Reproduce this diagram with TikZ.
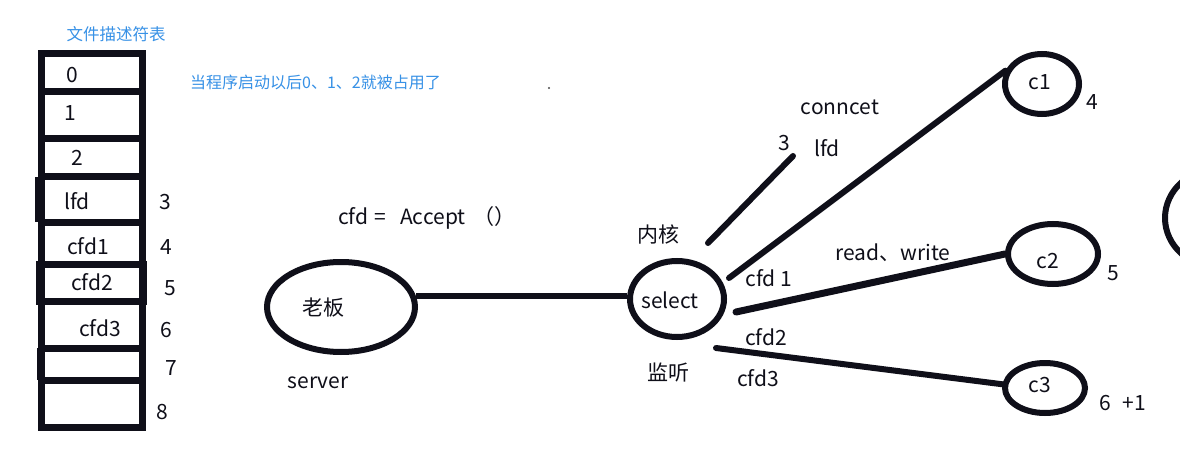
\documentclass[tikz,border=0pt]{standalone}
\usepackage{fontspec}
\setmainfont{Noto Sans CJK SC}
\usetikzlibrary{shapes.geometric}
\definecolor{ink}{RGB}{15,15,25}
\definecolor{bluet}{RGB}{55,145,230}
\begin{document}
\begin{tikzpicture}[x=1pt,y=-1pt,
  txt/.style={font=\fontsize{21}{24}\selectfont, text=ink, inner sep=0pt},
  btxt/.style={font=\fontsize{16}{19}\selectfont, text=bluet, inner sep=0pt},
  oval/.style={ellipse, draw=ink, line width=6pt, inner sep=0pt},
  wire/.style={draw=ink, line width=6pt, line cap=round},
  tbl/.style={draw=ink, line width=7pt}]
\useasboundingbox (0,0) rectangle (1180,465);
\clip (0,0) rectangle (1180,465);
\fill[white] (0,0) rectangle (1180,465);

% file descriptor table
\draw[tbl] (41,54) rectangle (142,427);
\foreach \yy in {92,139,177,222,264,301,348,380} \draw[tbl] (41,\yy) -- (142,\yy);
\draw[tbl] (38,177) -- (38,222);
\draw[tbl] (39,264) rectangle (143,301);
\draw[tbl] (40,348) -- (40,380);

\node[btxt, font=\fontsize{16.5}{19}\selectfont] (title) at (116,34) {文件描述符表};
\node[btxt, anchor=west] (desc) at (190,82) {当程序启动以后0、1、2就被占用了};
\fill[gray!60!black] (549,88) circle (1.1);

\node[txt] (r0) at (72,75) {0};
\node[txt] (r1) at (70,113) {1};
\node[txt] (r2) at (77,158) {2};
\node[txt] (r3) at (77,201) {lfd};
\node[txt] (r4) at (88,246) {cfd1};
\node[txt] (r5) at (92,282) {cfd2};
\node[txt] (r6) at (100,328) {cfd3};
\node[txt] (i3) at (165,202) {3};
\node[txt] (i4) at (166,247) {4};
\node[txt] (i5) at (170,288) {5};
\node[txt] (i6) at (166,330) {6};
\node[txt] (i7) at (171,368) {7};
\node[txt] (i8) at (162,412) {8};

% ovals
\node[oval, minimum width=148pt, minimum height=90pt] (boss) at (341,307) {};
\node[oval, minimum width=94pt, minimum height=76pt] (sel) at (677,299) {};
\node[oval, minimum width=74pt, minimum height=60pt] (c1) at (1042,84) {};
\node[oval, minimum width=90pt, minimum height=60pt] (c2) at (1053,254) {};
\node[oval, minimum width=80pt, minimum height=50pt] (c3) at (1045,388) {};
\node[oval, minimum width=110pt, minimum height=100pt] (cx) at (1220,218) {};

\node[txt] (bossT) at (323,308) {老板};
\node[txt] (selT) at (670,300) {select};
\node[txt] (c1T) at (1040,82) {c1};
\node[txt] (c2T) at (1048,261) {c2};
\node[txt] (c3T) at (1040,385) {c3};
\node[txt] (n4) at (1092,102) {4};
\node[txt] (n5) at (1113,273) {5};
\node[txt, anchor=west] (n6) at (1099,403) {6\hspace{12pt}+1};

\node[txt, anchor=west] (accept) at (338,218) {cfd\hspace{6pt}=\hspace{14pt}Accept\hspace{8pt}（）};
\node[txt] (server) at (318,383) {server};
\node[txt] (kernel) at (658,234) {内核};
\node[txt] (listen) at (668,373) {监听};
\node[txt] (conn) at (840,107) {conncet};
\node[txt] (three) at (784,143) {3};
\node[txt] (lfd) at (827,148) {lfd};
\node[txt] (cfd1) at (769,278) {cfd 1};
\node[txt] (rw) at (893,253) {read、write};
\node[txt] (cfd2) at (766,337) {cfd2};
\node[txt] (cfd3) at (758,378) {cfd3};

% connectors
\draw[wire, line cap=butt] (boss.8) -- (boss.8 -| sel.west);
\coordinate (s1) at (729,278);
\coordinate (s2) at (736,312);
\coordinate (s3) at (716,348);
\coordinate (l1) at (708,243);
\coordinate (l2) at (793,156);
\draw[wire] (s1) -- (c1.160);
\draw[wire, line width=7pt] (s2) -- (c2.west);
\draw[wire] (s3) -- (c3.175);
\draw[wire] (l1) -- (l2);
\end{tikzpicture}
\end{document}
